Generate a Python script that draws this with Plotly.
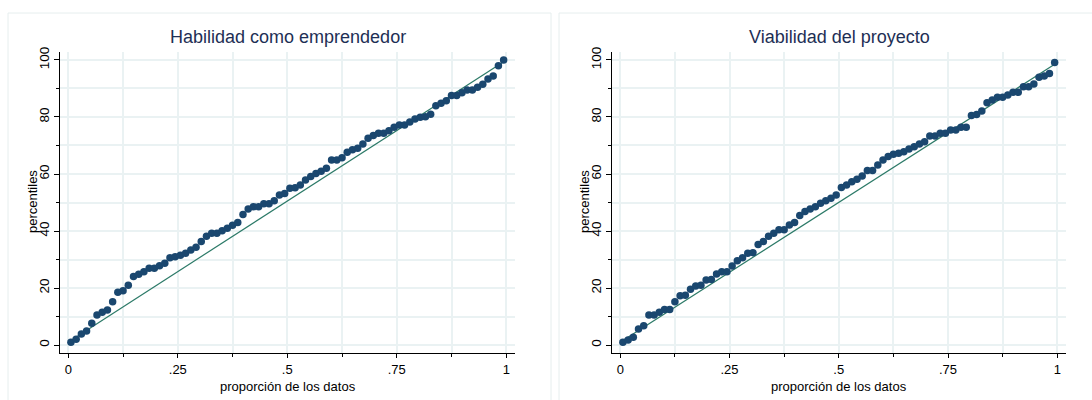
import plotly.graph_objects as go

W, H = 1092, 400

titles = ["Habilidad como emprendedor", "Viabilidad del proyecto"]
x_title = "proporción de los datos"
y_title = "percentiles"

habilidad = [1, 2, 3.9, 4.9, 7.6, 10.5, 11.5, 12.3, 15.2, 18.5, 19, 21, 24, 24.8, 25.7,
             26.9, 26.9, 27.8, 28.7, 30.6, 31, 31.5, 32.2, 33.3, 34.3, 36.3, 38.2, 39.2,
             39.2, 40.1, 41, 42, 43, 45.8, 47.7, 48.5, 48.5, 49.6, 49.6, 50.6, 52.6, 53.2,
             55, 55.2, 56.1, 57.9, 59.1, 60.2, 61, 62, 64.9, 64.9, 65.7, 67.6, 68.5, 69,
             70.5, 72.5, 73.5, 74.3, 74.3, 75.2, 76.4, 77.2, 77.2, 78.2, 79.3, 79.9, 80.1,
             81, 83.9, 84.8, 85.7, 87.5, 87.5, 88.5, 89.5, 89.5, 90.4, 91.5, 93.3, 94.4,
             98, 100]

viabilidad = [1, 1.8, 2.7, 5.6, 6.8, 10.5, 10.5, 11.5, 12.5, 12.5, 15.2, 17.3, 17.5, 19.6,
              20.7, 21, 22.8, 23, 24.9, 25.7, 25.7, 27.7, 29.6, 30.6, 32.2, 32.4, 35.3,
              36.3, 38.2, 39.2, 40.4, 40.4, 42.1, 43, 45.4, 46.8, 47.7, 48.5, 49.7, 50.6,
              51.5, 52.6, 55.3, 56.1, 57.3, 58.2, 59.3, 61.2, 61.2, 63.2, 64.9, 66.1, 66.9,
              67.3, 67.8, 68.8, 69.6, 70.5, 71.3, 73.3, 73.3, 74.3, 74.3, 75.4, 75.4, 76.4,
              76.4, 80.5, 80.9, 82.1, 85, 86, 86.9, 86.9, 87.7, 88.7, 88.7, 90.6, 90.6,
              91.6, 93.9, 94.4, 95.3, 99.1]

x_tickvals = [0, 0.25, 0.5, 0.75, 1]
x_ticktext = ["0", ".25", ".5", ".75", "1"]
y_tickvals = [0, 20, 40, 60, 80, 100]
y_ticktext = ["0", "20", "40", "60", "80", "100"]

FONT = "Liberation Sans, Arial, sans-serif"
NAVY = "#1a476f"
LINE = "#2c7a68"
GRID = "#eaf2f3"
TITLE_C = "#1e2f55"

# pixel geometry of the two plot areas
plots = [
    dict(x0=60, x1=515),
    dict(x0=612, x1=1066),
]
py_top, py_bot = 52, 353

fig = go.Figure()
series = [habilidad, viabilidad]
for k, vals in enumerate(series):
    n = len(vals)
    prop = [(i + 0.5) / n for i in range(n)]
    xa = "x" if k == 0 else "x2"
    ya = "y" if k == 0 else "y2"
    ymin, ymax = min(vals), max(vals)
    ref_y = [ymin + (ymax - ymin) * p for p in (prop[0], prop[-1])]
    fig.add_trace(go.Scatter(x=[prop[0], prop[-1]], y=ref_y, mode="lines",
                             line=dict(color=LINE, width=1.2), xaxis=xa, yaxis=ya,
                             showlegend=False, hoverinfo="skip"))
    fig.add_trace(go.Scatter(x=prop, y=vals, mode="markers",
                             marker=dict(color=NAVY, size=7.5, line=dict(width=0)),
                             xaxis=xa, yaxis=ya, showlegend=False))

def xaxis_cfg(p, anchor):
    return dict(domain=[p["x0"] / W, p["x1"] / W], range=[-0.019, 1.02], anchor=anchor,
                tickmode="array", tickvals=x_tickvals, ticktext=x_ticktext,
                ticks="outside", ticklen=4, tickcolor="black", tickwidth=1,
                showline=True, linecolor="black", linewidth=1,
                showgrid=True, gridcolor=GRID, gridwidth=1.5, zeroline=False,
                minor=dict(tickmode="linear", tick0=0, dtick=0.125, ticks="outside",
                           ticklen=3, tickcolor="black", showgrid=True,
                           gridcolor=GRID, gridwidth=1.5),
                tickfont=dict(family=FONT, size=13, color="black"),
                automargin=False, fixedrange=True)

def yaxis_cfg(anchor):
    return dict(domain=[1 - py_bot / H, 1 - py_top / H], range=[-2.8, 102.8],
                anchor=anchor,
                tickmode="array", tickvals=y_tickvals, ticktext=y_ticktext,
                tickangle=-90,
                ticks="outside", ticklen=5, tickcolor="black", tickwidth=1,
                showline=True, linecolor="black", linewidth=1,
                showgrid=True, gridcolor=GRID, gridwidth=1.5, zeroline=False,
                minor=dict(tickmode="linear", tick0=0, dtick=10, ticks="outside",
                           ticklen=3, tickcolor="black", showgrid=True,
                           gridcolor=GRID, gridwidth=1.5),
                tickfont=dict(family=FONT, size=13.5, color="black"),
                automargin=False, fixedrange=True)

ann = []
shapes = []
boxes = [(8, 551), (559, 1100)]
for k, p in enumerate(plots):
    cx = (p["x0"] + p["x1"]) / 2 / W
    ann.append(dict(text=titles[k], x=cx, y=1 - 37 / H, xref="paper", yref="paper",
                    xanchor="center", yanchor="middle", showarrow=False,
                    font=dict(family=FONT, size=18, color=TITLE_C)))
    ann.append(dict(text=x_title, x=cx, y=1 - 386 / H, xref="paper", yref="paper",
                    xanchor="center", yanchor="middle", showarrow=False,
                    font=dict(family=FONT, size=13, color="black")))
    ann.append(dict(text=y_title, x=(p["x0"] - 28) / W, y=1 - 202 / H,
                    xref="paper", yref="paper", textangle=-90,
                    xanchor="center", yanchor="middle", showarrow=False,
                    font=dict(family=FONT, size=13, color="black")))
    bx0, bx1 = boxes[k]
    shapes.append(dict(type="rect", xref="paper", yref="paper",
                       x0=bx0 / W, x1=bx1 / W, y0=-0.1, y1=1 - 13 / H,
                       line=dict(color="#e6eeee", width=1), fillcolor="rgba(0,0,0,0)",
                       layer="below"))

fig.update_layout(
    width=W, height=H,
    margin=dict(l=0, r=0, t=0, b=0),
    paper_bgcolor="white", plot_bgcolor="white",
    xaxis=xaxis_cfg(plots[0], "y"), yaxis=yaxis_cfg("x"),
    xaxis2=xaxis_cfg(plots[1], "y2"), yaxis2=yaxis_cfg("x2"),
    annotations=ann, shapes=shapes,
    font=dict(family=FONT),
)

fig.write_html("out.html", config={"displayModeBar": False})
